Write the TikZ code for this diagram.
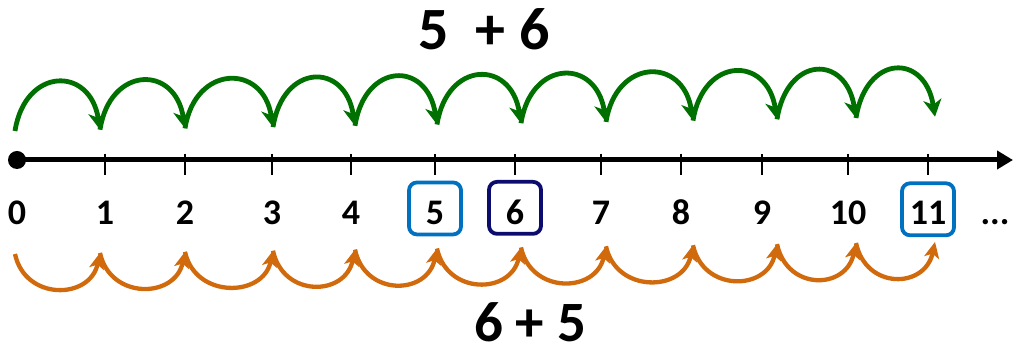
\documentclass[tikz,border=0pt]{standalone}
\usepackage{fontspec}
\setmainfont{Carlito}
\usetikzlibrary{arrows.meta,calc,positioning}
\definecolor{hopgreen}{RGB}{0,112,0}
\definecolor{hoporange}{RGB}{209,106,12}
\definecolor{boxblue}{RGB}{0,112,192}
\definecolor{boxnavy}{RGB}{12,12,110}
\tikzstyle{numlabel} = [font=\fontsize{36}{36}\selectfont\bfseries, inner sep=0pt, anchor=base]
\tikzstyle{sumlabel} = [font=\fontsize{60}{60}\selectfont\bfseries, inner sep=0pt, anchor=base]
\tikzstyle{tickmark} = [line width=1.6pt]
\tikzstyle{hopup} = [line width=4.8pt, draw=hopgreen, -{Stealth[length=17pt,width=18pt,inset=5pt]}]
\tikzstyle{hopdown} = [line width=4.3pt, draw=hoporange, -{Stealth[length=16pt,width=15pt,inset=4pt]}]
\tikzstyle{markbox} = [rectangle, rounded corners=8pt, line width=3.8pt, minimum width=52pt, minimum height=52pt]

\begin{document}
\begin{tikzpicture}[x=1pt,y=1pt]
  \useasboundingbox (0,0) rectangle (1014,355);
  % number line
  \coordinate (zero) at (17,195);
  \coordinate (tip) at (1013,195);
  \draw[line width=5pt,-{Triangle[length=16pt,width=18pt]}] (zero) -- (tip);
  \fill (zero) circle (9pt);
  \foreach \t in {105,185,272,351,435,515,601,681,762,848,928}
    \draw[tickmark] (\t,201) -- (\t,180);
  % labels and hop ends
  \foreach \i/\t/\e in {0/17/15,1/105/100,2/185/185,3/272/273,4/351/355,5/435/437,
      6/515/521,7/601/606,8/681/693,9/762/777,10/848/856,11/928/935}{
    \node[numlabel] (n\i) at (\t,130) {\i};
    \coordinate (g\i) at (\e,{224+1.3*\i});
    \coordinate (o\i) at (\e,{101+1.1*\i});
  }
  \node[numlabel] (dots) at (995,130) {...};
  % marked numbers
  \node[markbox, draw=boxblue] (b5) at ($(n5)+(0,5)$) {};
  \node[markbox, draw=boxnavy] (b6) at ($(n6)+(0,5)$) {};
  \node[markbox, draw=boxblue] (b11) at ($(n11)+(0,4)$) {};
  % hops
  \foreach \i [count=\j from 1] in {0,...,10}{
    \draw[hopup] (g\i) .. controls +(10,64) and +(-10,64) .. (g\j);
    \draw[hopdown] (o\i) .. controls +(10,-47) and +(-10,-47) .. (o\j);
  }
  % sums
  \node[sumlabel] (sumtop) at (484,305) {5\ \ + 6};
  \node[sumlabel, font=\fontsize{57}{57}\selectfont\bfseries] (sumbot) at (530,13) {6 + 5};
\end{tikzpicture}
\end{document}
